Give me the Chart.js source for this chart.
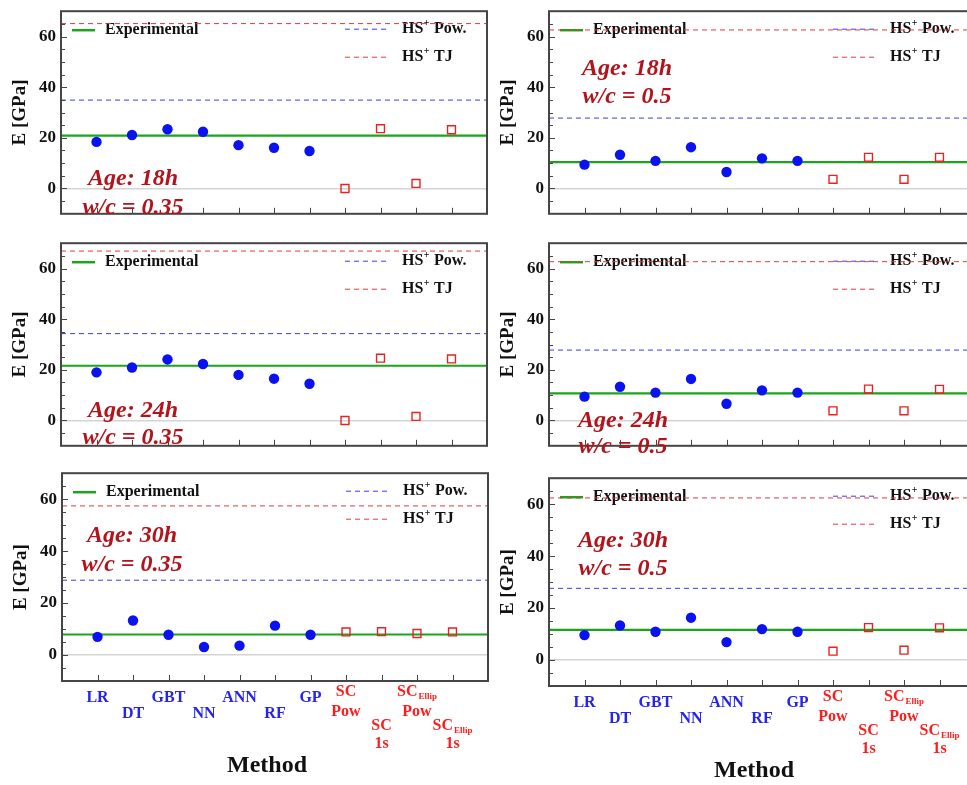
<!DOCTYPE html>
<html><head><meta charset="utf-8">
<script src="https://cdn.jsdelivr.net/npm/chart.js@4"></script>
<style>
html,body{margin:0;padding:0;overflow:hidden;background:#fff;width:967px;height:785px;position:relative;}
.p{position:absolute;}
</style></head><body>
<script>
// ---------- data ----------
const methods = ['LR','DT','GBT','NN','ANN','RF','GP','SC\nPow','SC\n1s','SC_Ellip\nPow','SC_Ellip\n1s'];
const yTicks = [0, 20, 40, 60];

// Age 18h, w/c = 0.35
const ml18_035 = [18.4, 21.1, 23.4, 22.4, 17.1, 16.1, 14.8];
const sc18_035 = [0.0, 23.6, 2.0, 23.2];
const ref18_035 = [20.9, 34.9, 65.1]; // Experimental, HS+ Pow., HS+ TJ
// Age 18h, w/c = 0.5
const ml18_05 = [9.4, 13.3, 10.9, 16.3, 6.5, 11.9, 10.9];
const sc18_05 = [3.6, 12.3, 3.6, 12.3];
const ref18_05 = [10.4, 27.8, 62.6];
// Age 24h, w/c = 0.35
const ml24_035 = [19.0, 20.9, 24.1, 22.3, 18.0, 16.5, 14.5];
const sc24_035 = [0.0, 24.6, 1.6, 24.3];
const ref24_035 = [21.6, 34.3, 66.9];
// Age 24h, w/c = 0.5
const ml24_05 = [9.4, 13.3, 11.0, 16.4, 6.6, 11.9, 11.0];
const sc24_05 = [3.8, 12.4, 3.8, 12.3];
const ref24_05 = [10.7, 27.8, 62.7];
// Age 30h, w/c = 0.35
const ml30_035 = [7.0, 13.3, 7.8, 3.1, 3.6, 11.3, 7.8];
const sc30_035 = [8.9, 9.0, 8.3, 8.9];
const ref30_035 = [7.9, 28.8, 57.4];
// Age 30h, w/c = 0.5
const ml30_05 = [9.6, 13.3, 10.9, 16.3, 6.9, 11.9, 10.9];
const sc30_05 = [3.4, 12.5, 3.8, 12.4];
const ref30_05 = [11.6, 27.6, 62.4];

// ---------- styling / layout ----------
const SERIF = "'Liberation Serif','Times New Roman',serif";
const PLOT_W = 426, PLOT_H = 213, YAXIS_W = 61;
const panels = [
  {left:61,  top:6,     ml:ml18_035, sc:sc18_035, ref:ref18_035, age:'Age: 18h', wc:'w/c = 0.35', ann:[72,168,197], bottom:false},
  {left:549, top:5.5,   ml:ml18_05,  sc:sc18_05,  ref:ref18_05,  age:'Age: 18h', wc:'w/c = 0.5',  ann:[78,58,86],   bottom:false},
  {left:61,  top:237.5, ml:ml24_035, sc:sc24_035, ref:ref24_035, age:'Age: 24h', wc:'w/c = 0.35', ann:[72,168,195], bottom:false},
  {left:549, top:237.5, ml:ml24_05,  sc:sc24_05,  ref:ref24_05,  age:'Age: 24h', wc:'w/c = 0.5',  ann:[74,178,204], bottom:false},
  {left:62,  top:467.5, ml:ml30_035, sc:sc30_035, ref:ref30_035, age:'Age: 30h', wc:'w/c = 0.35', ann:[70,63,92],   bottom:true},
  {left:549, top:472.5, ml:ml30_05,  sc:sc30_05,  ref:ref30_05,  age:'Age: 30h', wc:'w/c = 0.5',  ann:[74,63,91],   bottom:true}
];
const C_GREEN = '#1aa51a', C_BLUE_D = '#3c3ce6', C_RED_D = '#e23a3a';
const C_PT = '#0b12f0', C_SQ = '#e62222', C_ANN = '#b3141c';
const C_XBLUE = '#2424ee', C_XRED = '#ff1c1c';

function drawSup(ctx, x, y, base, sup, rest, size){
  ctx.textAlign='left'; ctx.textBaseline='middle';
  ctx.font = `bold ${size}px ${SERIF}`;
  ctx.fillText(base, x, y); x += ctx.measureText(base).width;
  ctx.font = `bold ${Math.round(size*0.62)}px ${SERIF}`;
  ctx.fillText(sup, x+0.5, y-6); x += ctx.measureText(sup).width + 1;
  ctx.font = `bold ${size}px ${SERIF}`;
  ctx.fillText(rest, x, y);
}
function drawSub(ctx, cx, y, text, color){
  const [main, sub] = text.split('_');
  ctx.fillStyle=color; ctx.textBaseline='middle';
  ctx.font = `bold 16px ${SERIF}`; const w1 = ctx.measureText(main).width;
  let w2 = 0;
  if (sub){ ctx.font = `bold 9px ${SERIF}`; w2 = ctx.measureText(sub).width + 1; }
  let x = cx - (w1+w2)/2;
  ctx.textAlign='left';
  ctx.font = `bold 16px ${SERIF}`; ctx.fillText(main, x, y);
  if (sub){ ctx.font = `bold 9px ${SERIF}`; ctx.fillText(sub, x+w1+1, y+5); }
}

const deco = {
  id:'deco',
  beforeDatasetsDraw(chart){
    const ctx = chart.ctx, a = chart.chartArea;
    ctx.save();
    ctx.lineWidth = 2.5; ctx.strokeStyle = C_GREEN; ctx.setLineDash([]);
    ctx.beginPath(); ctx.moveTo(a.left+11, a.top+19); ctx.lineTo(a.left+34, a.top+19); ctx.stroke();
    ctx.fillStyle = '#111'; ctx.font = `bold 16px ${SERIF}`; ctx.textAlign='left'; ctx.textBaseline='middle';
    ctx.fillText('Experimental', a.left+44, a.top+19);
    ctx.lineWidth = 1; ctx.setLineDash([5,4]);
    ctx.strokeStyle = C_BLUE_D; ctx.beginPath(); ctx.moveTo(a.left+284, a.top+18); ctx.lineTo(a.left+329, a.top+18); ctx.stroke();
    ctx.strokeStyle = C_RED_D; ctx.beginPath(); ctx.moveTo(a.left+284, a.top+46); ctx.lineTo(a.left+329, a.top+46); ctx.stroke();
    ctx.setLineDash([]); ctx.fillStyle='#111';
    drawSup(ctx, a.left+341, a.top+18, 'HS', '+', ' Pow.', 16);
    drawSup(ctx, a.left+341, a.top+46, 'HS', '+', ' TJ', 16);
    ctx.restore();
  },
  afterDraw(chart){
    const ctx = chart.ctx, a = chart.chartArea, ys = chart.scales.y, xs = chart.scales.x;
    const p = chart.options.plugins.deco;
    ctx.save();
    // ticks (inward)
    ctx.strokeStyle = '#444'; ctx.lineWidth = 1; ctx.setLineDash([]);
    for (let v = -5; v < 70; v += 5){
      const y = Math.round(ys.getPixelForValue(v))+0.5;
      const len = (v % 20 === 0) ? 6 : 4;
      ctx.beginPath(); ctx.moveTo(a.left, y); ctx.lineTo(a.left+len, y); ctx.stroke();
    }
    for (let i = 1; i <= methods.length; i++){
      const x = Math.round(xs.getPixelForValue(i))+0.5;
      ctx.beginPath(); ctx.moveTo(x, a.bottom); ctx.lineTo(x, a.bottom-6); ctx.stroke();
    }
    // frame
    ctx.lineWidth = 2; ctx.strokeStyle = '#454545';
    ctx.strokeRect(a.left, a.top, a.right-a.left, a.bottom-a.top);
    // annotation
    ctx.fillStyle = C_ANN; ctx.textAlign='center'; ctx.textBaseline='middle';
    ctx.font = `italic bold 24px ${SERIF}`;
    ctx.fillText(p.age, a.left+p.ann[0], a.top+p.ann[1]);
    ctx.fillText(p.wc, a.left+p.ann[0], a.top+p.ann[2]);
    if (p.bottom){
      methods.forEach((m, i) => {
        const x = xs.getPixelForValue(i+1);
        const color = i < 7 ? C_XBLUE : C_XRED;
        const lines = m.split('\n');
        const low = i < 7 ? (i % 2 === 1) : (i % 2 === 0);
        if (lines.length === 1){
          drawSub(ctx, x, a.bottom + (low ? 33 : 17), lines[0], color);
        } else {
          const offs = low ? [45, 63] : [11, 31];
          drawSub(ctx, x, a.bottom + offs[0], lines[0], color);
          drawSub(ctx, x, a.bottom + offs[1], lines[1], color);
        }
      });
      ctx.fillStyle = '#111'; ctx.textAlign='center'; ctx.textBaseline='middle';
      ctx.font = `bold 24px ${SERIF}`;
      ctx.fillText('Method', a.left+205, a.bottom+85);
    }
    ctx.restore();
  }
};

function hline(v, color, dash, width){
  return {type:'line', data:[{x:0,y:v},{x:12,y:v}], borderColor:color, borderWidth:width,
          borderDash:dash, pointRadius:0, fill:false, order:2};
}

panels.forEach(cfg => {
  const padTop = 10, padRight = 8, padBottom = cfg.bottom ? 105 : 10;
  const div = document.createElement('div'); div.className = 'p';
  div.style.left = (cfg.left - YAXIS_W) + 'px';
  div.style.top = (cfg.top - padTop) + 'px';
  div.style.width = (YAXIS_W + PLOT_W + padRight) + 'px';
  div.style.height = (padTop + PLOT_H + padBottom) + 'px';
  const c = document.createElement('canvas'); div.appendChild(c); document.body.appendChild(div);
  new Chart(c, {
    type:'scatter',
    data:{datasets:[
      {label:'ML', data:cfg.ml.map((v,i)=>({x:i+1,y:v})), pointStyle:'circle', pointRadius:5.2,
       backgroundColor:C_PT, borderColor:C_PT, borderWidth:0, order:0},
      {label:'SC', data:cfg.sc.map((v,i)=>({x:i+8,y:v})), pointStyle:'rect', pointRadius:5.6,
       backgroundColor:'rgba(255,255,255,0)', borderColor:C_SQ, borderWidth:1.4, order:0},
      hline(cfg.ref[0], C_GREEN, [], 2.2),
      hline(cfg.ref[1], C_BLUE_D, [5,4], 1),
      hline(cfg.ref[2], C_RED_D, [5,4], 1)
    ]},
    options:{
      responsive:true, maintainAspectRatio:false, animation:false, events:[],
      layout:{padding:{top:padTop, right:padRight, bottom:padBottom, left:0}},
      plugins:{legend:{display:false}, tooltip:{enabled:false},
        deco:{age:cfg.age, wc:cfg.wc, ann:cfg.ann, bottom:cfg.bottom}},
      scales:{
        x:{type:'linear', min:0, max:12, ticks:{display:false}, grid:{display:false}, border:{display:false},
           afterFit:s=>{s.height=0;}},
        y:{type:'linear', min:-10, max:70,
           afterBuildTicks:s=>{s.ticks = yTicks.map(v=>({value:v}));},
           afterFit:s=>{s.width=YAXIS_W;},
           ticks:{font:{family:SERIF, size:17, weight:'bold'}, color:'#111', padding:5},
           grid:{drawTicks:false, color:ctx=> (ctx.tick && ctx.tick.value===0) ? '#d4d4d4' : 'rgba(0,0,0,0)', lineWidth:1.5},
           border:{display:false},
           title:{display:true, text:'E [GPa]', color:'#111', font:{family:SERIF, size:19, weight:'bold'}, padding:{top:9,bottom:0}}
        }
      }
    },
    plugins:[deco]
  });
});
</script>
</body></html>
